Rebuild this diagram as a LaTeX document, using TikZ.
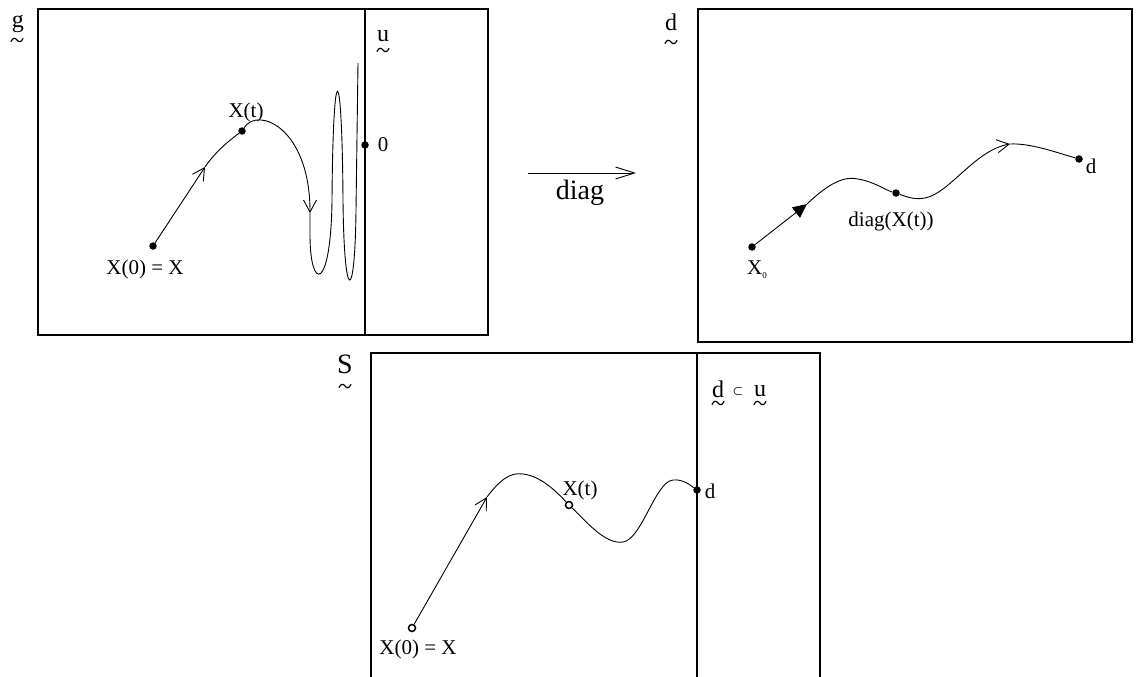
\documentclass[tikz,border=0pt]{standalone}
\usepackage{amsmath}
\usepackage{fontspec}
\setmainfont{Liberation Serif}
\usetikzlibrary{arrows.meta,positioning}

\tikzset{
    utilde/.pic={
        \draw[line width=1.2pt, line cap=round] (-6,1.5) .. controls (-4,-2.5) and (-2,-2.5) .. (0,0)
            .. controls (2,2.5) and (4,2.5) .. (6,-1.5);
    }
}

\begin{document}
\begin{tikzpicture}[
    x=1pt, y=-1pt,
    boxline/.style={draw, line width=1.8pt},
    curve/.style={line width=0.9pt},
    lbl/.style={font=\fontsize{21}{24}\selectfont, inner sep=0pt},
    letter/.style={font=\fontsize{24}{26}\selectfont, inner sep=0pt},
    dot/.style={circle, fill, inner sep=0pt, minimum size=7.5pt},
    odot/.style={circle, draw, fill=white, line width=1.5pt, inner sep=0pt, minimum size=7pt},
    barb/.style={-{Straight Barb[length=12pt,width=13pt]}},
    tri/.style={-{Triangle[length=14pt,width=13pt]}}
]
    \useasboundingbox (0,0) rectangle (1141,677);

    % frames
    \draw[boxline] (38,9) rectangle (488,335);
    \draw[boxline] (365,9) -- (365,335);
    \draw[boxline] (698,9) rectangle (1132,342);
    \draw[boxline] (371,677) -- (371,353) -- (820,353) -- (820,677);
    \draw[boxline] (697,353) -- (697,677);

    % top left: path in g
    \node[dot] (x0) at (153,246) {};
    \node[dot] (xt) at (242,131) {};
    \node[dot] (zero) at (365,145) {};
    \coordinate (a1) at (205,167);
    \coordinate (a2) at (310,213);
    \draw[curve, barb] (x0) -- (a1);
    \draw[curve] (a1) .. controls (215,152) and (230,140) .. (xt);
    \draw[curve, barb] (xt) .. controls (258,106) and (310,128) .. (a2);
    \draw[curve] (a2) -- (310,235) .. controls (310,292) and (331,292) .. (332,200)
        .. controls (333,55) and (342,55) .. (343,200)
        .. controls (344,305) and (355,305) .. (356,210) -- (358,63);
    \node[lbl] (lx0) at (145,269) {X(0) = X};
    \node[lbl] (lxt) at (246,112) {X(t)};
    \node[lbl] (lzero) at (383,145) {0};
    \node[letter] (lg) at (18,24) {g};
    \pic (lgt) at (17,40) {utilde};
    \node[letter] (lu) at (383,36) {u};
    \pic (lut) at (383,50) {utilde};

    % diag map
    \coordinate (dstart) at (528,173);
    \coordinate (dend) at (636,173);
    \draw[line width=0.9pt, -{Straight Barb[length=19pt,width=12pt]}] (dstart) -- (dend);
    \node[font=\fontsize{28}{30}\selectfont, inner sep=0pt] (ldiag) at (580,193) {diag};

    % top right: image in d
    \node[dot] (x0r) at (752,247) {};
    \node[dot] (dg) at (896,193) {};
    \node[dot] (dr) at (1079,159) {};
    \coordinate (a3) at (807,204);
    \coordinate (a4) at (1010,144);
    \draw[curve, tri] (x0r) -- (a3);
    \draw[curve] (a3) .. controls (830,182) and (845,176) .. (858,179)
        .. controls (875,182) and (885,190) .. (dg);
    \draw[curve, barb] (dg) .. controls (907,197) and (915,200) .. (925,198)
        .. controls (950,193) and (975,150) .. (a4);
    \draw[curve] (a4) .. controls (1030,143) and (1055,152) .. (dr);
    \node[letter] (ld) at (671,22) {d};
    \pic (ldt) at (671,42) {utilde};
    \node[lbl] (lx0r) at (757,270) {X\raisebox{-4pt}{\fontsize{9}{9}\selectfont 0}};
    \node[lbl] (ldg) at (891,221) {diag(X(t))};
    \node[lbl] (ldr) at (1091,166) {d};

    % bottom: path in S
    \node[odot] (x0b) at (412,628) {};
    \node[odot] (xtb) at (569,505) {};
    \node[dot] (db) at (697,490) {};
    \coordinate (a5) at (487,497);
    \draw[curve, barb] (x0b) -- (a5);
    \draw[curve] (a5) .. controls (500,480) and (510,472) .. (523,474)
        .. controls (540,476) and (555,490) .. (xtb);
    \draw[curve] (xtb) .. controls (585,520) and (605,545) .. (623,542)
        .. controls (642,539) and (655,482) .. (673,480)
        .. controls (683,479) and (690,485) .. (db);
    \node[font=\fontsize{28}{30}\selectfont, inner sep=0pt] (lS) at (345,364) {S};
    \pic (lSt) at (345,386) {utilde};
    \node[letter] (ldd) at (718,389) {d};
    \node[inner sep=0pt, font=\fontsize{13}{13}\selectfont] (lsub) at (738,391) {$\boldsymbol\subset$};
    \node[letter] (luu) at (760,391) {u};
    \pic (lddt) at (718,403) {utilde};
    \pic (luut) at (760,403) {utilde};
    \node[lbl] (lx0b) at (418,649) {X(0) = X};
    \node[lbl] (lxtb) at (580,490) {X(t)};
    \node[lbl] (ldb) at (710,491) {d};
\end{tikzpicture}
\end{document}
